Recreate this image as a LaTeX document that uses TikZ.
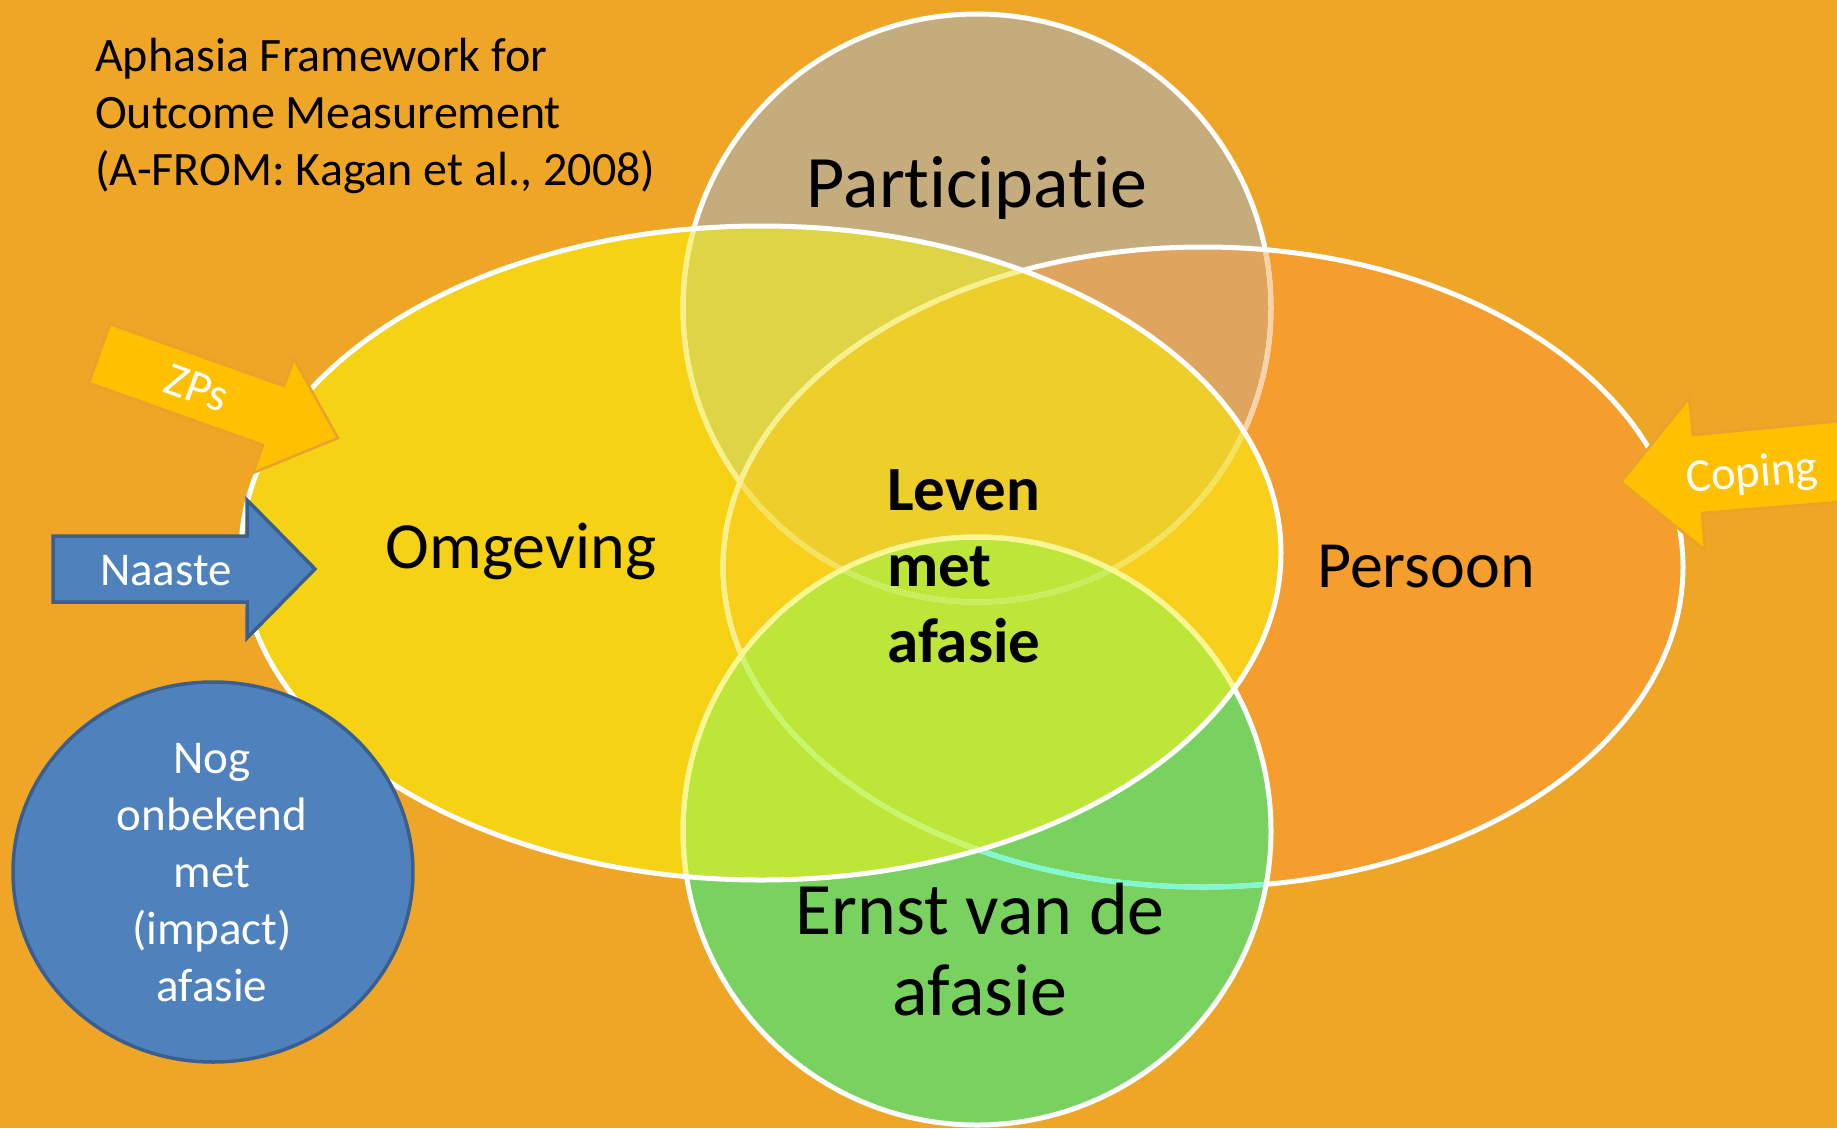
\documentclass[tikz,border=0pt]{standalone}
\usepackage{fontspec}
\setmainfont{Carlito}[Ligatures=NoCommon]
\definecolor{bgorange}{HTML}{EFA526}
\definecolor{omgfill}{HTML}{F5D214}
\definecolor{prsfill}{HTML}{F59D2D}
\definecolor{prtfill}{HTML}{C4AC7D}
\definecolor{ernfill}{HTML}{79D160}
\definecolor{omgprs}{HTML}{F8CF1A}
\definecolor{prtomg}{HTML}{DED445}
\definecolor{prtprs}{HTML}{DFA55F}
\definecolor{corefill}{HTML}{EDCE2A}
\definecolor{limefill}{HTML}{BDE638}
\definecolor{goldarrow}{HTML}{FFC000}
\definecolor{goldedge}{HTML}{E9A32A}
\definecolor{bluefill}{HTML}{4F81BD}
\definecolor{blueedge}{HTML}{3A5F8F}
\tikzset{
  prtshape/.style={insert path={(977,308) circle [radius=294]}},
  omgshape/.style={insert path={(761,553) ellipse [x radius=520, y radius=327]}},
  prsshape/.style={insert path={(1203,567) ellipse [x radius=480, y radius=320]}},
  ernshape/.style={insert path={(977,831) circle [radius=294]}},
  rim/.style={line width=5pt},
  lbl/.style={inner sep=0pt, anchor=base},
  smalltxt/.style={font=\fontsize{47}{57}\selectfont},
  midtxt/.style={font=\fontsize{66}{78}\selectfont},
  bigtxt/.style={font=\fontsize{74}{81}\selectfont}
}
\begin{document}
\begin{tikzpicture}[x=1pt, y=-1pt]
  \useasboundingbox (0,0) rectangle (1837,1128);
  \fill[bgorange] (0,0) rectangle (1837,1128);

  % set fills, overlaps painted one by one
  \fill[prsfill, prsshape];
  \fill[omgfill, omgshape];
  \begin{scope}
    \clip[prsshape];
    \fill[omgprs, omgshape];
  \end{scope}
  \fill[prtfill, prtshape];
  \begin{scope}
    \clip[prtshape];
    \fill[prtprs, prsshape];
    \fill[prtomg, omgshape];
    \clip[prsshape];
    \fill[corefill, omgshape];
  \end{scope}
  \fill[ernfill, ernshape];
  \begin{scope}
    \clip[ernshape];
    \fill[limefill, omgshape];
  \end{scope}

  % outlines, tinted where a later set lies over them
  \draw[white, rim, prtshape];
  \begin{scope}
    \clip[prsshape];
    \draw[rim, color={rgb,255:red,250;green,210;blue,168}, prtshape];
  \end{scope}
  \begin{scope}
    \clip[omgshape];
    \draw[rim, color={rgb,255:red,248;green,240;blue,138}, prtshape];
    \clip[prsshape];
    \draw[rim, color={rgb,255:red,244;green,226;blue,90}, prtshape];
    \clip[ernshape];
    \draw[rim, color={rgb,255:red,198;green,238;blue,94}, prtshape];
  \end{scope}
  \draw[white, rim, prsshape];
  \begin{scope}
    \clip[ernshape];
    \draw[rim, color={rgb,255:red,128;green,248;blue,208}, prsshape];
  \end{scope}
  \begin{scope}
    \clip[omgshape];
    \draw[rim, color={rgb,255:red,248;green,240;blue,138}, prsshape];
    \clip[ernshape];
    \draw[rim, color={rgb,255:red,202;green,244;blue,106}, prsshape];
  \end{scope}
  \draw[white, rim, ernshape];
  \begin{scope}
    \clip[omgshape];
    \draw[rim, color={rgb,255:red,250;green,246;blue,144}, ernshape];
  \end{scope}
  \draw[white, rim, omgshape];

  % arrows and the blue circle
  \draw[goldedge, fill=goldarrow, line width=2.5pt, line join=miter]
    (110,324) -- (284,386) -- (294,359) -- (338,438) -- (253,473) -- (263,445) -- (89,383) -- cycle;
  \draw[blueedge, fill=bluefill, line width=3.5pt, line join=miter]
    (53,536) -- (247,536) -- (247,500) -- (315,569) -- (247,638) -- (247,602) -- (53,602) -- cycle;
  \draw[goldedge, fill=goldarrow, line width=2.5pt, line join=miter]
    (1621,482) -- (1689,398) -- (1693,435) -- (1840,421) -- (1840,502) -- (1702,513) -- (1705,550) -- cycle;
  \draw[blueedge, fill=bluefill, line width=3.5pt] (213,872) ellipse [x radius=200, y radius=190];

  % texts (multi-line nodes sit on their last baseline)
  \node[lbl, anchor=base west, align=left, font=\fontsize{48}{57}\selectfont] (ttl) at (95,185)
    {Aphasia Framework for\\Outcome Measurement\\(A-FROM: Kagan et al., 2008)};
  \node[lbl, bigtxt] (prt) at (977,207) {Participatie};
  \node[lbl, midtxt] (omg) at (521,568) {Omgeving};
  \node[lbl, midtxt] (prs) at (1426,587) {Persoon};
  \node[lbl, bigtxt, align=center] (ern) at (980,1015) {Ernst van de\\afasie};
  \node[lbl, anchor=base west, align=left, font=\bfseries\fontsize{63}{76}\selectfont] (lev) at (887,662)
    {Leven\\met\\afasie};
  \node[lbl, smalltxt, align=center, white] (nog) at (212,1001)
    {Nog\\onbekend\\met\\(impact)\\afasie};
  \node[lbl, smalltxt, white] (naa) at (166,585) {Naaste};
  \node[inner sep=0pt, smalltxt, white, rotate=-20] (zps) at (197,388) {ZPs};
  \node[inner sep=0pt, smalltxt, white, rotate=5] (cop) at (1752,475) {Coping};
\end{tikzpicture}
\end{document}
